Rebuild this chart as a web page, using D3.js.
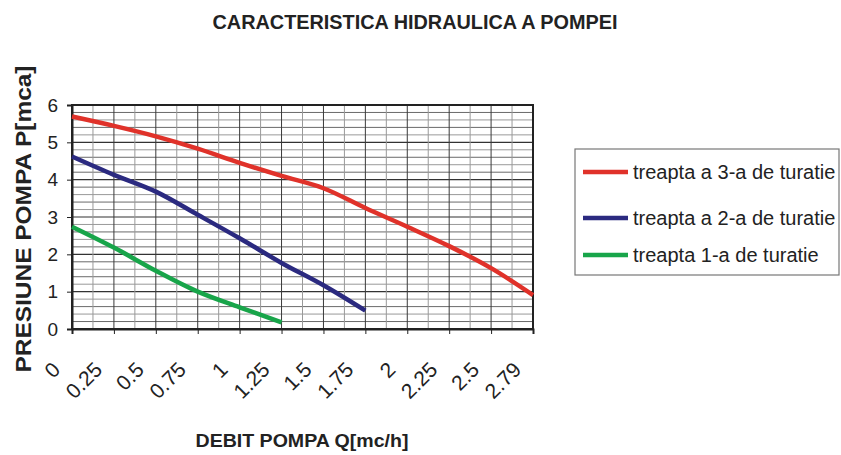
<!DOCTYPE html>
<html><head><meta charset="utf-8">
<script src="https://cdn.jsdelivr.net/npm/d3@7"></script>
<style>body{margin:0;background:#fff}svg{display:block}</style>
</head><body>
<script>
const categories = ["0","0.25","0.5","0.75","1","1.25","1.5","1.75","2","2.25","2.5","2.79"];
const seriesNames = ["treapta a 3-a de turatie","treapta a 2-a de turatie","treapta 1-a de turatie"];
const speed3 = [5.69,5.44,5.16,4.83,4.45,4.10,3.77,3.24,2.74,2.22,1.63,0.91];
const speed2 = [4.62,4.13,3.68,3.06,2.43,1.77,1.17,0.49];
const speed1 = [2.74,2.18,1.56,1.00,0.58,0.18];
const yTicks = [0,1,2,3,4,5,6];
const colors = ["#e0322a","#2b2a80","#18a54a"];

const W=841,H=455;
const svg=d3.select("body").append("svg").attr("width",W).attr("height",H);
const L=72,R=533,T=105,B=329;
const x=d3.scalePoint().domain(categories).range([L,R]);
const y=d3.scaleLinear().domain([0,6]).range([B,T]);
const step=x.step();
const FF="Liberation Sans, Arial, sans-serif";

// horizontal gridlines every 0.2
const hg=d3.range(0,31).map(i=>i*0.2);
svg.append("g").selectAll("line").data(hg).join("line")
  .attr("x1",L).attr("x2",R).attr("y1",d=>y(d)).attr("y2",d=>y(d))
  .attr("stroke",(d,i)=>i%5===0?"#333":(i%2? "#6a6a6a":"#999")).attr("stroke-width",(d,i)=>i%5===0?1.2:1);
// vertical gridlines every half category
const vg=d3.range(0,23).map(i=>L+i*step/2);
svg.append("g").selectAll("line").data(vg).join("line")
  .attr("x1",d=>d).attr("x2",d=>d).attr("y1",T).attr("y2",B)
  .attr("stroke",(d,i)=>i%2===0?"#3a3a3a":"#999").attr("stroke-width",1);

// plot border
svg.append("rect").attr("x",L).attr("y",T).attr("width",R-L).attr("height",B-T)
  .attr("fill","none").attr("stroke","#222").attr("stroke-width",2);

// axes
const yAxis=d3.axisLeft(y).tickValues(yTicks).tickSize(5).tickPadding(9).tickFormat(d3.format("d"));
const gy=svg.append("g").attr("transform",`translate(${L},0)`).call(yAxis);
gy.select(".domain").attr("stroke","#222").attr("stroke-width",2);
gy.selectAll(".tick line").attr("stroke","#222");
gy.selectAll("text").attr("font-family",FF).attr("font-size",19).attr("fill","#222");

const xAxis=d3.axisBottom(x).tickSize(5).tickPadding(0);
const gx=svg.append("g").attr("transform",`translate(0,${B})`).call(xAxis);
gx.select(".domain").attr("stroke","#222").attr("stroke-width",2);
gx.selectAll(".tick line").attr("stroke","#222");
gx.selectAll("text").attr("font-family",FF).attr("font-size",21).attr("fill","#222")
  .attr("text-anchor","end").attr("dy",null).attr("y",null)
  .attr("transform","translate(-11,42) rotate(-45)");

// lines
const data=[speed3,speed2,speed1];
const line=d3.line().x((d,i)=>x(categories[i])).y(d=>y(d)).curve(d3.curveCatmullRom.alpha(0.5));
svg.append("g").selectAll("path").data(data).join("path")
  .attr("d",d=>line(d)).attr("fill","none").attr("stroke",(d,i)=>colors[i])
  .attr("stroke-width",4.5).attr("stroke-linecap","butt");

// titles
svg.append("text").attr("x",415).attr("y",29).attr("text-anchor","middle")
  .attr("font-family",FF).attr("font-weight","bold").attr("font-size",20)
  .attr("textLength",405).attr("lengthAdjust","spacingAndGlyphs").attr("fill","#222")
  .text("CARACTERISTICA HIDRAULICA A POMPEI");
svg.append("text").attr("x",302).attr("y",447).attr("text-anchor","middle")
  .attr("font-family",FF).attr("font-weight","bold").attr("font-size",19)
  .attr("textLength",213).attr("lengthAdjust","spacingAndGlyphs").attr("fill","#222")
  .text("DEBIT POMPA Q[mc/h]");
svg.append("text").attr("transform","translate(31,219) rotate(-90)").attr("text-anchor","middle")
  .attr("font-family",FF).attr("font-weight","bold").attr("font-size",22)
  .attr("textLength",307).attr("lengthAdjust","spacingAndGlyphs").attr("fill","#222")
  .text("PRESIUNE POMPA P[mca]");

// legend
const lg=svg.append("g");
lg.append("rect").attr("x",575).attr("y",149).attr("width",264).attr("height",126)
  .attr("fill","#fff").attr("stroke","#777").attr("stroke-width",1.2);
const ly=[172,218,255];
seriesNames.forEach((n,i)=>{
  lg.append("line").attr("x1",583).attr("x2",628).attr("y1",ly[i]).attr("y2",ly[i])
    .attr("stroke",colors[i]).attr("stroke-width",4.5);
  lg.append("text").attr("x",633).attr("y",ly[i]+7)
    .attr("font-family",FF).attr("font-size",20).attr("fill","#222").text(n);
});
</script>
</body></html>
